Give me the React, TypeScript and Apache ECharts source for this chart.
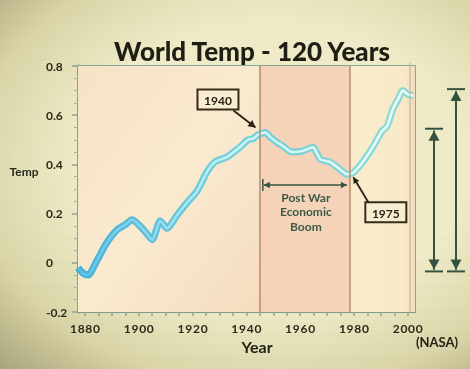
import React, { useEffect, useRef } from "react";
import * as echarts from "echarts";

// ---- data ----
const years = [1877.4, 1879, 1881, 1884.5, 1888, 1892, 1895, 1897.5, 1900.4, 1902.5, 1905, 1908, 1910.5, 1914, 1918, 1921.6, 1925.4, 1928.3, 1932.8, 1937.6, 1940.6, 1942.5, 1944.3, 1947, 1949, 1951.4, 1953.6, 1957, 1961, 1964.8, 1966, 1967.6, 1971, 1974.8, 1977.4, 1979.6, 1983.3, 1987, 1990.4, 1992.3, 1994.5, 1996.4, 1998.2, 2000, 2002];
const temps = [-0.02, -0.04, -0.05, 0.01, 0.08, 0.135, 0.155, 0.175, 0.15, 0.125, 0.094, 0.17, 0.14, 0.19, 0.245, 0.29, 0.37, 0.41, 0.43, 0.47, 0.5, 0.505, 0.52, 0.53, 0.51, 0.49, 0.475, 0.45, 0.455, 0.47, 0.45, 0.42, 0.41, 0.38, 0.36, 0.365, 0.41, 0.47, 0.535, 0.555, 0.625, 0.665, 0.7, 0.685, 0.68];

const xLabelYears = [1880, 1900, 1920, 1940, 1960, 1980, 2000];
const xTickYears = [1880, 1885, 1890, 1895, 1900, 1905, 1910, 1915, 1920, 1925, 1930, 1935, 1940, 1945, 1950, 1955, 1960, 1965, 1970, 1975, 1980, 1985, 1990, 1995, 2000];
const xMin = 1877.4;
const xMax = 2002.7;
const yMin = -0.2;
const yMax = 0.8;
const yStep = 0.2;

const eraBounds = [1877.4, 1945, 1978.5, 2002.7];
const peakPoint = [1944.5, 0.53];
const peakLabel = "1940";
const troughPoint = [1979.4, 0.36];
const troughLabel = "1975";
const boomLines = ["Post War", "Economic", "Boom"];
const boomArrowLevel = 0.316;
const riseTops = [0.545, 0.706];
const riseBase = -0.035;

const titleText = "World Temp - 120 Years";
const yName = "Temp";
const xName = "Year";
const sourceText = "(NASA)";

const FONT = 'Lato, "Open Sans", "DejaVu Sans", sans-serif';
const DARK = "#2a2a1c";
const GREEN = "#35523f";
const Z = 100;

function arrowHead(x1: number, y1: number, x2: number, y2: number, size: number, color: string) {
  const a = Math.atan2(y2 - y1, x2 - x1);
  const s = size;
  const p1 = [x2, y2];
  const p2 = [x2 - s * Math.cos(a) + (s * 0.55) * Math.sin(a), y2 - s * Math.sin(a) - (s * 0.55) * Math.cos(a)];
  const p3 = [x2 - s * Math.cos(a) - (s * 0.55) * Math.sin(a), y2 - s * Math.sin(a) + (s * 0.55) * Math.cos(a)];
  return { type: "polygon", z: Z, shape: { points: [p1, p2, p3] }, style: { fill: color }, silent: true };
}

function arrowLine(x1: number, y1: number, x2: number, y2: number, color: string, w: number, head: number, both = false) {
  const els: any[] = [
    { type: "line", z: Z, shape: { x1, y1, x2, y2 }, style: { stroke: color, lineWidth: w }, silent: true },
    arrowHead(x1, y1, x2, y2, head, color),
  ];
  if (both) els.push(arrowHead(x2, y2, x1, y1, head, color));
  return els;
}

function labelBox(x: number, y: number, w: number, h: number, text: string) {
  return [
    { type: "rect", z: Z, shape: { x, y, width: w, height: h }, style: { fill: "#f7eed2", stroke: "#3a2a18", lineWidth: 2 }, silent: true },
    {
      type: "text",
      z: Z + 1,
      x: x + w / 2,
      y: y + h / 2 + 1,
      style: { text, fill: "#2a2016", font: `bold 12px ${FONT}`, align: "center", verticalAlign: "middle" },
      silent: true,
    },
  ];
}

export default function App() {
  const ref = useRef<HTMLDivElement>(null);
  useEffect(() => {
    if (!ref.current) return;
    const chart = echarts.init(ref.current, undefined, { renderer: "svg" });
    const lineData = years.map((y, i) => [y, temps[i]]);

    chart.setOption({
      animation: false,
      backgroundColor: "transparent",
      title: {
        text: titleText,
        left: 247,
        top: 33,
        textAlign: "center",
        textStyle: { fontFamily: FONT, fontWeight: 900, fontSize: 26, color: "#1e1e14" },
      },
      grid: {
        left: 78,
        right: 55,
        top: 66,
        bottom: 57,
        show: true,
        borderColor: "#86aa9a",
        borderWidth: 2,
        backgroundColor: "#f8ead0",
      },
      xAxis: {
        type: "value",
        min: xMin,
        max: xMax,
        splitLine: { show: false },
        axisLine: { show: true, onZero: false, lineStyle: { color: "#7f9c8a", width: 2 } },
        axisTick: { show: true, customValues: xTickYears, length: 4, lineStyle: { color: "#8ea595", width: 1.5 } },
        axisLabel: {
          customValues: xLabelYears,
          margin: 10,
          color: DARK,
          fontFamily: FONT,
          fontWeight: "bold",
          fontSize: 12,
          formatter: (v: number) => String(Math.round(v)).split("").join("\u200A"),
        },
      },
      yAxis: {
        type: "value",
        min: yMin,
        max: yMax,
        interval: yStep,
        splitLine: { show: false },
        axisLine: { show: true, lineStyle: { color: "#79a898", width: 3 } },
        axisTick: { show: true, length: 6, lineStyle: { color: "#8ea595", width: 1.5 } },
        minorTick: { show: true, splitNumber: 4, length: 4, lineStyle: { color: "#a0b5a5" } },
        axisLabel: {
          align: "left",
          margin: 32,
          color: DARK,
          fontFamily: FONT,
          fontWeight: "bold",
          fontSize: 12,
          formatter: (v: number) => (Math.abs(v) < 1e-9 ? "0" : String(Math.round(v * 10) / 10)),
        },
      },
      series: [
        {
          type: "line",
          data: lineData,
          showSymbol: false,
          smooth: 0.25,
          silent: true,
          z: 3,
          lineStyle: {
            width: 7,
            color: new echarts.graphic.LinearGradient(0, 0, 1, 0, [
              { offset: 0, color: "#2aa6d6" },
              { offset: 0.45, color: "#5ccce0" },
              { offset: 1, color: "#7ed8d8" },
            ]),
            opacity: 0.85,
          },
          markArea: {
            silent: true,
            data: [
              [
                {
                  xAxis: eraBounds[0],
                  itemStyle: {
                    color: new echarts.graphic.LinearGradient(0, 0, 1, 1, [
                      { offset: 0, color: "#f7e2c6" },
                      { offset: 0.5, color: "#f9ead0" },
                      { offset: 1, color: "#f5dcc0" },
                    ]),
                  },
                },
                { xAxis: eraBounds[1] },
              ],
              [{ xAxis: eraBounds[1], itemStyle: { color: "#f5d3b9" } }, { xAxis: eraBounds[2] }],
              [
                {
                  xAxis: eraBounds[2],
                  itemStyle: {
                    color: new echarts.graphic.LinearGradient(0, 0, 1, 0, [
                      { offset: 0, color: "#f9edcc" },
                      { offset: 0.85, color: "#f8e8c8" },
                      { offset: 1, color: "#f3d8bd" },
                    ]),
                  },
                },
                { xAxis: eraBounds[3] },
              ],
            ],
          },
          markLine: {
            silent: true,
            symbol: "none",
            label: { show: false },
            lineStyle: { color: "#b78a68", width: 1.5, type: "solid" },
            data: [{ xAxis: eraBounds[1] }, { xAxis: eraBounds[2] }],
          },
        },
        {
          type: "line",
          data: lineData,
          showSymbol: false,
          smooth: 0.25,
          silent: true,
          z: 4,
          lineStyle: {
            width: 2.5,
            color: new echarts.graphic.LinearGradient(0, 0, 1, 0, [
              { offset: 0, color: "#5ec2ea" },
              { offset: 0.45, color: "#c8f4f2" },
              { offset: 1, color: "#f0fdf8" },
            ]),
          },
        },
      ],
    });

    const px = (x: number, y: number) => chart.convertToPixel({ gridIndex: 0 }, [x, y]) as number[];
    const pk = px(peakPoint[0], peakPoint[1]);
    const tr = px(troughPoint[0], troughPoint[1]);
    const bl = px(eraBounds[1], boomArrowLevel);
    const br = px(eraBounds[2], boomArrowLevel);
    const top1 = px(xMax, riseTops[0]);
    const top2 = px(xMax, riseTops[1]);
    const base = px(xMax, riseBase);
    const right = px(xMax, yMin);

    const g: any[] = [];
    // inner right frame line
    g.push({ type: "line", z: 5, shape: { x1: right[0] - 5, y1: pk[1] - 70, x2: right[0] - 5, y2: right[1] }, style: { stroke: "#a8b8a0", lineWidth: 1 }, silent: true });
    // 1940 box + arrow
    g.push(...labelBox(pk[0] - 61, pk[1] - 43, 41, 20, peakLabel));
    g.push(...arrowLine(pk[0] - 25, pk[1] - 22, pk[0] - 3, pk[1] - 5, "#2a2016", 1.8, 7));
    // 1975 box + arrow
    g.push(...labelBox(tr[0] + 13, tr[1] + 28, 41, 20, troughLabel));
    g.push(...arrowLine(tr[0] + 16, tr[1] + 28, tr[0] + 1, tr[1] + 3, "#2a2016", 1.8, 6));
    // post-war double arrow
    const ay = bl[1];
    g.push(...arrowLine(bl[0] + 4, ay, br[0] - 3, ay, GREEN, 1.5, 6, true));
    g.push({ type: "line", z: Z, shape: { x1: bl[0] + 3, y1: ay - 6, x2: bl[0] + 3, y2: ay + 6 }, style: { stroke: GREEN, lineWidth: 1.5 }, silent: true });
    const midX = (bl[0] + br[0]) / 2 + 1;
    boomLines.forEach((t, i) => {
      g.push({
        type: "text",
        z: Z,
        x: midX,
        y: ay + 12 + i * 14.6,
        style: { text: t, fill: "#3c5a46", font: `bold 12px ${FONT}`, align: "center", verticalAlign: "middle" },
        silent: true,
      });
    });
    // right-hand rise arrows
    const riseXs = [434, 456];
    [top1, top2].forEach((t, i) => {
      const x = riseXs[i];
      g.push({ type: "line", z: Z, shape: { x1: x - 9, y1: t[1], x2: x + 9, y2: t[1] }, style: { stroke: GREEN, lineWidth: 2 }, silent: true });
      g.push({ type: "line", z: Z, shape: { x1: x - 9, y1: base[1], x2: x + 9, y2: base[1] }, style: { stroke: GREEN, lineWidth: 2 }, silent: true });
      g.push(...arrowLine(x, t[1] + 40, x, t[1] + 2, GREEN, 2, 10));
      g.push(...arrowLine(x, base[1] - 40, x, base[1] - 2, GREEN, 2, 10));
      g.push({ type: "line", z: Z, shape: { x1: x, y1: t[1] + 2, x2: x, y2: base[1] - 2 }, style: { stroke: GREEN, lineWidth: 2 }, silent: true });
    });
    // axis names
    g.push({ type: "text", z: Z, x: 24, y: 171, style: { text: yName, fill: DARK, font: `bold 12px ${FONT}`, align: "center", verticalAlign: "middle" }, silent: true });
    g.push({ type: "text", z: Z, x: 257, y: 346, style: { text: xName, fill: "#222218", font: `bold 16px ${FONT}`, align: "center", verticalAlign: "middle" }, silent: true });
    g.push({ type: "text", z: Z, x: 437, y: 342, style: { text: sourceText, fill: "#222218", font: `bold 13px ${FONT}`, align: "center", verticalAlign: "middle" }, silent: true });

    chart.setOption({ graphic: g });

    return () => chart.dispose();
  }, []);

  return (
    <div
      style={{
        position: "fixed",
        left: 0,
        top: 0,
        width: 470,
        height: 369,
        background:
          "repeating-linear-gradient(180deg, rgba(120,110,60,0) 0px, rgba(120,110,60,0) 11px, rgba(120,110,60,0.06) 12px), radial-gradient(ellipse 75% 70% at 58% 45%, #efebc8 55%, #d9d5a8 85%, #a9a47a 110%)",
      }}
    >
      <div ref={ref} style={{ width: 470, height: 369 }} />
    </div>
  );
}
